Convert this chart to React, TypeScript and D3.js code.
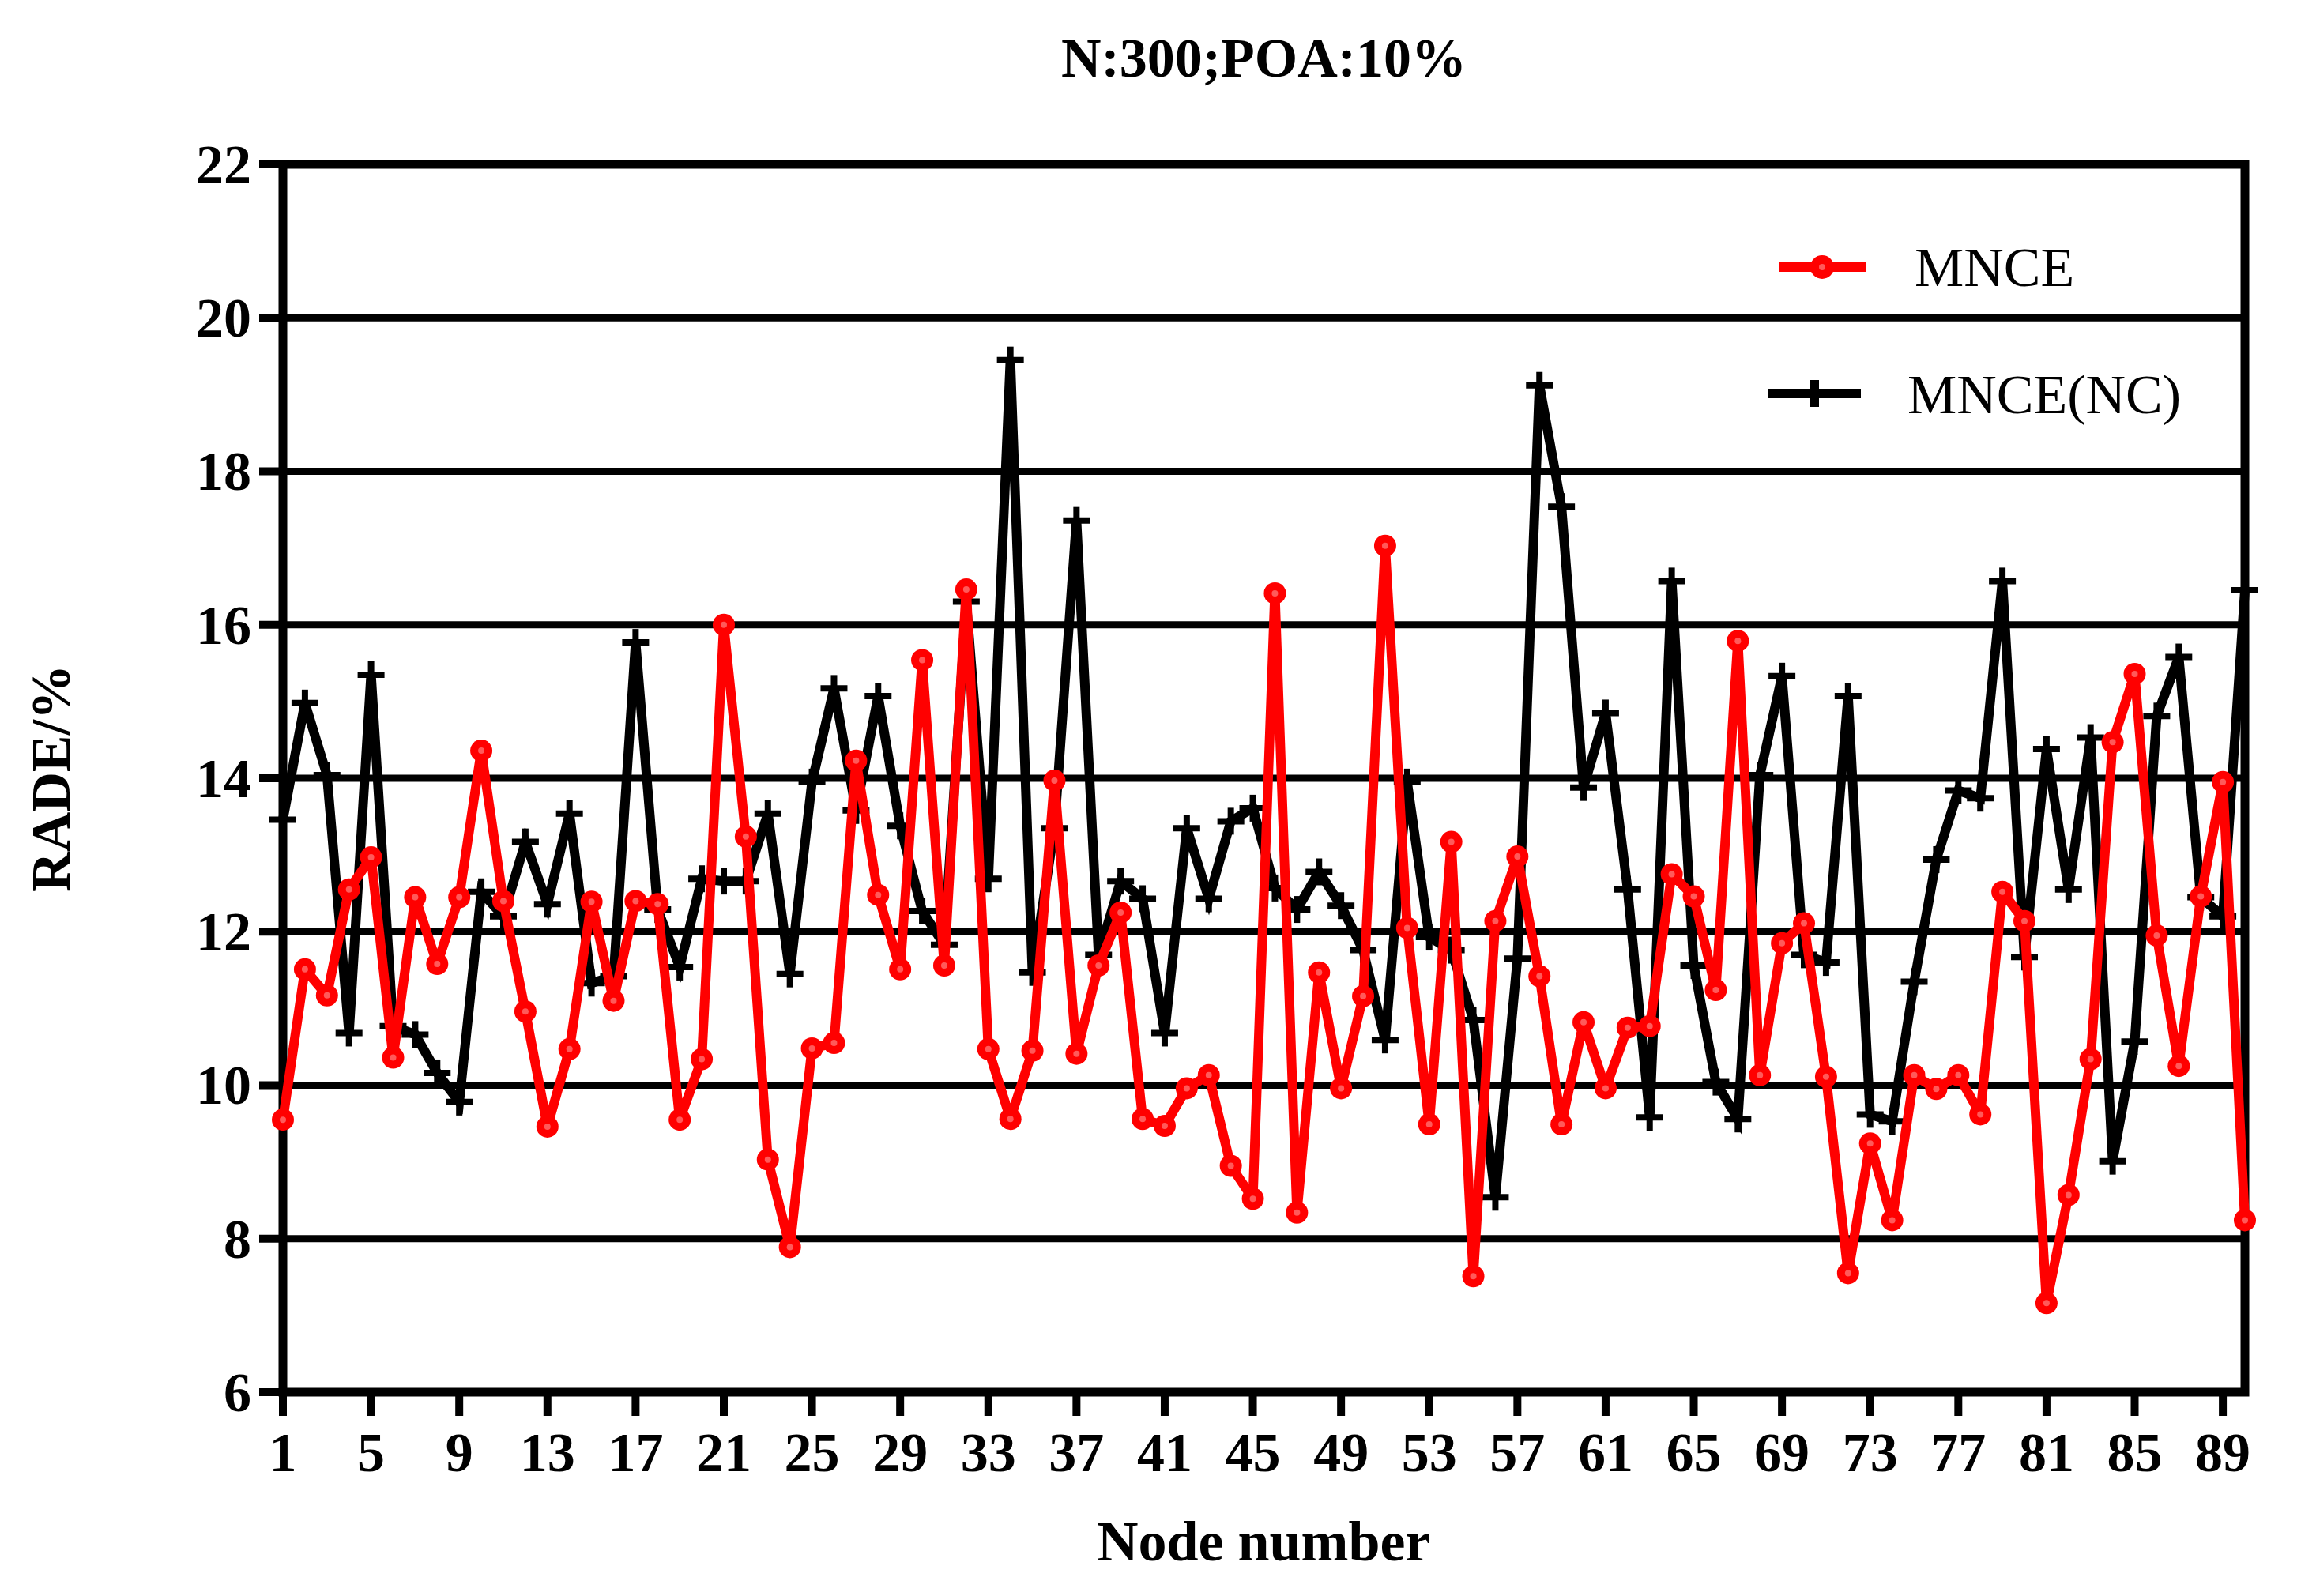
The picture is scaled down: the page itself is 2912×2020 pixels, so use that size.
import React from "react";
import * as d3 from "d3";

// node index 1..90
const nodes: number[] = d3.range(1, 91);

const mnce: number[] = [
  9.55, 11.51, 11.17, 12.55, 12.97, 10.36, 12.45, 11.58, 12.45, 14.36,
  12.4, 10.96, 9.46, 10.47, 12.39, 11.1, 12.4, 12.36, 9.55, 10.34,
  16.0, 13.24, 9.03, 7.89, 10.48, 10.55, 14.23, 12.48, 11.51, 15.54,
  11.56, 16.46, 10.47, 9.56, 10.45, 13.97, 10.41, 11.56, 12.25, 9.56,
  9.47, 9.96, 10.13, 8.95, 8.52, 16.41, 8.34, 11.47, 9.96, 11.16,
  17.03, 12.05, 9.49, 13.17, 7.51, 12.14, 12.98, 11.42, 9.49, 10.82,
  9.96, 10.75, 10.77, 12.75, 12.46, 11.24, 15.79, 10.13, 11.85, 12.11,
  10.11, 7.55, 9.24, 8.24, 10.13, 9.95, 10.13, 9.62, 12.52, 12.14,
  7.16, 8.57, 10.34, 14.47, 15.36, 11.95, 10.25, 12.46, 13.95, 8.24,
];

const mnceNC: number[] = [
  13.46, 14.98, 14.04, 10.68, 15.35, 10.77, 10.66, 10.16, 9.78, 12.52,
  12.2, 13.17, 12.36, 13.54, 11.33, 11.42, 15.77, 12.29, 11.54, 12.69,
  12.66, 12.66, 13.54, 11.45, 13.95, 15.17, 13.58, 15.07, 13.38, 12.27,
  11.83, 16.3, 12.69, 19.45, 11.47, 13.35, 17.36, 11.7, 12.66, 12.43,
  10.68, 13.35, 12.43, 13.44, 13.61, 12.57, 12.29, 12.78, 12.34, 11.76,
  10.59, 13.95, 11.93, 11.76, 10.85, 8.54, 11.65, 19.12, 17.54, 13.88,
  14.85, 12.55, 9.58, 16.57, 11.56, 10.04, 9.56, 14.04, 15.33, 11.7,
  11.6, 15.07, 9.62, 9.53, 11.35, 12.94, 13.84, 13.74, 16.57, 11.67,
  14.38, 12.55, 14.53, 9.01, 10.57, 14.81, 15.58, 12.45, 12.2, 16.45,
];

const xTicks: number[] = d3.range(1, 91, 4);
const yTicks: number[] = [6, 8, 10, 12, 14, 16, 18, 20, 22];

const W = 2912;
const H = 2020;
const m = { left: 358, right: 2841, top: 208, bottom: 1762 };
const FONT = "'Liberation Serif', 'Times New Roman', serif";

export default function App() {
  const x = d3.scaleLinear().domain([1, 90]).range([m.left, m.right]);
  const y = d3.scaleLinear().domain([6, 22]).range([m.bottom, m.top]);

  const line = d3
    .line<number>()
    .x((_, i) => x(nodes[i]))
    .y((d) => y(d));

  return (
    <svg
      width={W}
      height={H}
      style={{ position: "absolute", left: 0, top: 0, background: "#fff" }}
      fontFamily={FONT}
    >
      <rect x={0} y={0} width={W} height={H} fill="#fff" />

      {/* title */}
      <text x={(m.left + m.right) / 2} y={97} textAnchor="middle" fontSize={70} fontWeight="bold">
        N:300;POA:10%
      </text>

      {/* grid lines */}
      {yTicks.slice(1, -1).map((t) => (
        <line key={"g" + t} x1={m.left} x2={m.right} y1={y(t)} y2={y(t)} stroke="#000" strokeWidth={9} />
      ))}

      {/* y ticks + labels */}
      {yTicks.map((t) => (
        <g key={"y" + t}>
          <line x1={m.left - 30} x2={m.left} y1={y(t)} y2={y(t)} stroke="#000" strokeWidth={10} />
          <text x={318} y={y(t)} dy="0.34em" textAnchor="end" fontSize={70} fontWeight="bold">
            {t}
          </text>
        </g>
      ))}

      {/* x ticks + labels */}
      {xTicks.map((t) => (
        <g key={"x" + t}>
          <line x1={x(t)} x2={x(t)} y1={m.bottom} y2={m.bottom + 30} stroke="#000" strokeWidth={10} />
          <text x={x(t)} y={1862} textAnchor="middle" fontSize={70} fontWeight="bold">
            {t}
          </text>
        </g>
      ))}

      {/* frame */}
      <rect
        x={m.left}
        y={m.top}
        width={m.right - m.left}
        height={m.bottom - m.top}
        fill="none"
        stroke="#000"
        strokeWidth={11}
      />

      {/* MNCE(NC) series */}
      <path d={line(mnceNC) || ""} fill="none" stroke="#000" strokeWidth={12} strokeLinejoin="miter" />
      {mnceNC.map((v, i) => (
        <g key={"b" + i} stroke="#000" strokeWidth={8}>
          <line x1={x(nodes[i]) - 17} x2={x(nodes[i]) + 17} y1={y(v)} y2={y(v)} />
          <line x1={x(nodes[i])} x2={x(nodes[i])} y1={y(v) - 17} y2={y(v) + 17} />
        </g>
      ))}

      {/* MNCE series */}
      <path d={line(mnce) || ""} fill="none" stroke="#ff0000" strokeWidth={12} strokeLinejoin="round" />
      {mnce.map((v, i) => (
        <g key={"r" + i}>
          <circle cx={x(nodes[i])} cy={y(v)} r={14} fill="#ff0000" />
          <circle cx={x(nodes[i])} cy={y(v)} r={4} fill="#ff5a5a" />
        </g>
      ))}

      {/* legend */}
      <g>
        <line x1={2251} x2={2362} y1={338} y2={338} stroke="#ff0000" strokeWidth={12} />
        <circle cx={2306} cy={338} r={15} fill="#ff0000" />
        <circle cx={2306} cy={338} r={4} fill="#ff5a5a" />
        <text x={2423} y={362} fontSize={70}>MNCE</text>

        <line x1={2238} x2={2355} y1={498} y2={498} stroke="#000" strokeWidth={12} />
        <line x1={2296} x2={2296} y1={481} y2={515} stroke="#000" strokeWidth={12} />
        <text x={2414} y={523} fontSize={70}>MNCE(NC)</text>
      </g>

      {/* axis titles */}
      <text x={(m.left + m.right) / 2} y={1975} textAnchor="middle" fontSize={72} fontWeight="bold">
        Node number
      </text>
      <text
        transform={`translate(88, ${(m.top + m.bottom) / 2}) rotate(-90)`}
        textAnchor="middle"
        fontSize={70}
        fontWeight="bold"
      >
        RADE/%
      </text>
    </svg>
  );
}
